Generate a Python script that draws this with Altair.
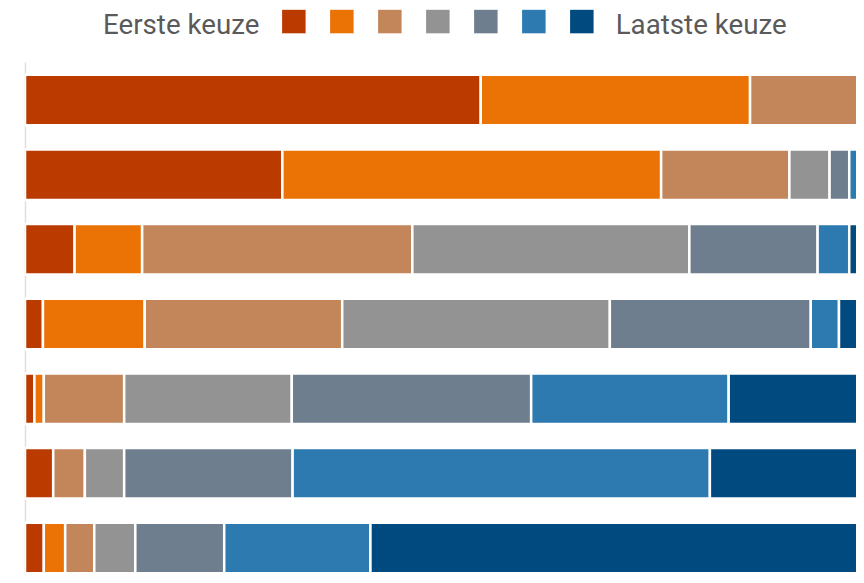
import altair as alt
import pandas as pd

# Rows (top to bottom) and the share (%) of each choice rank 1..7
rows = ["Item 1", "Item 2", "Item 3", "Item 4", "Item 5", "Item 6", "Item 7"]
ranks = ["1", "2", "3", "4", "5", "6", "7"]
shares = [
    [53.3, 31.5, 12.8, 1.0, 0.6, 0.4, 0.4],
    [30.1, 44.3, 15.0, 4.7, 2.3, 2.4, 1.2],
    [5.8, 7.9, 31.6, 32.4, 15.0, 3.7, 3.6],
    [2.1, 11.9, 23.1, 31.3, 23.5, 3.3, 4.8],
    [1.1, 1.1, 9.4, 19.6, 28.0, 23.1, 17.7],
    [3.3, 0.0, 3.7, 4.6, 19.7, 48.8, 19.9],
    [2.2, 2.5, 3.4, 4.8, 10.4, 17.1, 59.6],
]
colors = ["#BB3A00", "#EB7205", "#C3865B", "#939393", "#6F7E8F", "#2C7AB0", "#004A80"]

records = []
for r, vals in zip(rows, shares):
    for k, v in zip(ranks, vals):
        records.append({"rij": r, "keuze": k, "volgorde": int(k), "aandeel": v})
df = pd.DataFrame(records)

FONT = "Roboto"

chart = (
    alt.Chart(df)
    .mark_bar(stroke="white", strokeWidth=2.5, clip=True)
    .encode(
        y=alt.Y(
            "rij:N",
            sort=rows,
            scale=alt.Scale(range=[0, 524], paddingInner=0.324, paddingOuter=0.171),
            axis=alt.Axis(labels=False, ticks=False, title=None, domainColor="#DDDDDD", domainWidth=1.5, grid=False),
        ),
        x=alt.X("aandeel:Q", stack="zero", scale=alt.Scale(domain=[0, 97.19], nice=False, zero=True), axis=None),
        order=alt.Order("volgorde:Q", sort="ascending"),
        color=alt.Color(
            "keuze:N",
            scale=alt.Scale(domain=ranks, range=colors),
            legend=alt.Legend(
                orient="none",
                legendX=78,
                legendY=-49.7,
                direction="horizontal",
                title="Eerste keuze",
                titleOrient="left",
                titleFont=FONT,
                titleFontSize=27.7,
                titleFontWeight="normal",
                titleColor="#5A5A5A",
                titlePadding=20,
                titleBaseline="middle",
                labelExpr="datum.value == '7' ? '\u00a0Laatste keuze' : ''",
                labelFont=FONT,
                labelFontSize=27.7,
                labelColor="#5A5A5A",
                labelOffset=20,
                labelLimit=400,
                columnPadding=0,
                symbolType="M-1,-1.41L1,-1.41L1,0.59L-1,0.59Z",
                symbolSize=552,
                symbolStrokeWidth=0,
                symbolOpacity=1,
                padding=0,
            ),
        ),
    )
    .properties(
        width=831,
        height=513,
        padding={"left": 17, "top": 54, "right": 0, "bottom": 0},
        autosize=alt.AutoSizeParams(type="none"),
    )
    .configure_view(stroke=None)
)

chart.save("out.html", embed_options={"renderer": "svg", "actions": False})
